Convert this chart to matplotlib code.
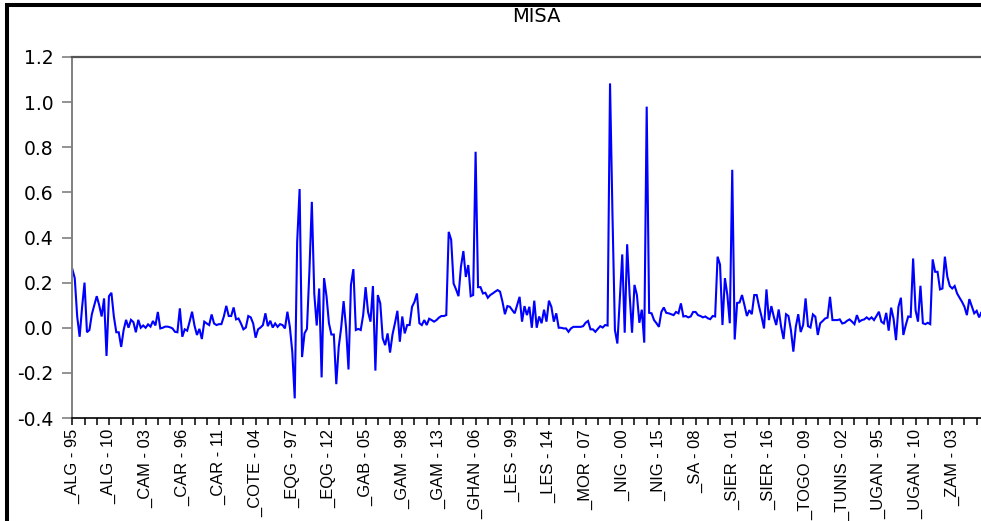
import matplotlib
matplotlib.use("Agg")
import matplotlib.pyplot as plt
import numpy as np
from matplotlib.lines import Line2D
from matplotlib.ticker import FormatStrFormatter

countries = ["ALG", "CAM", "CAR", "COTE", "EQG", "GAB", "GAM", "GHAN", "LES",
             "MOR", "NIG", "SA", "SIER", "TOGO", "TUNIS", "UGAN", "ZAM"]
years = list(range(1995, 2017))

ALG = [0.26, 0.22, 0.05, -0.04, 0.09, 0.20, -0.02, -0.01, 0.06, 0.10, 0.14,
       0.10, 0.05, 0.13, -0.125, 0.14, 0.155, 0.05, -0.02, -0.02, -0.085, -0.01]
CAM = [0.035, 0.0, 0.035, 0.025, -0.02, 0.035, 0.0, 0.01, 0.0, 0.015, 0.005,
       0.03, 0.01, 0.07, -0.003, 0.0, 0.005, 0.005, 0.002, -0.003, -0.018, -0.02]
CAR = [0.086, -0.04, -0.007, -0.013, 0.027, 0.071, 0.009, -0.032, -0.005, -0.05, 0.027,
       0.019, 0.012, 0.059, 0.019, 0.012, 0.016, 0.016, 0.05, 0.097, 0.052, 0.052]
COTE = [0.09, 0.037, 0.041, 0.019, -0.007, 0.001, 0.052, 0.046, 0.019, -0.044, -0.007,
        0.001, 0.012, 0.064, 0.007, 0.031, 0.001, 0.019, 0.004, 0.016, 0.012, -0.003]
EQG = [0.071, 0.004, -0.106, -0.313, 0.38, 0.615, -0.13, -0.025, -0.005, 0.25, 0.558,
       0.15, 0.01, 0.174, -0.22, 0.22, 0.14, 0.02, -0.03, -0.03, -0.25, -0.085]
GAB = [0.0, 0.118, 0.0, -0.185, 0.19, 0.26, -0.01, -0.005, -0.01, 0.056, 0.18,
       0.07, 0.027, 0.185, -0.19, 0.145, 0.108, -0.047, -0.077, -0.025, -0.11, -0.03]
GAM = [0.02, 0.075, -0.062, 0.05, -0.025, 0.012, 0.012, 0.093, 0.115, 0.152, 0.02,
       0.012, 0.034, 0.012, 0.04, 0.034, 0.027, 0.034, 0.045, 0.052, 0.052, 0.056]
GHAN = [0.425, 0.39, 0.196, 0.17, 0.14, 0.27, 0.34, 0.225, 0.278, 0.14, 0.145,
        0.78, 0.18, 0.18, 0.152, 0.155, 0.133, 0.145, 0.152, 0.16, 0.167, 0.16]
LES = [0.115, 0.06, 0.096, 0.093, 0.078, 0.064, 0.1, 0.137, 0.027, 0.096, 0.056,
       0.093, 0.0, 0.12, 0.0, 0.05, 0.02, 0.08, 0.027, 0.12, 0.093, 0.027]
MOR = [0.064, 0.0, 0.0, -0.003, -0.003, -0.018, -0.003, 0.004, 0.004, 0.004, 0.004,
       0.007, 0.022, 0.03, -0.007, -0.007, -0.018, -0.005, 0.007, 0.001, 0.012, 0.01]
NIG = [1.083, 0.5, -0.01, -0.07, 0.13, 0.325, -0.022, 0.37, 0.15, -0.022, 0.19,
       0.145, 0.022, 0.08, -0.066, 0.98, 0.066, 0.064, 0.034, 0.02, 0.004, 0.07]
SA = [0.09, 0.066, 0.064, 0.06, 0.056, 0.07, 0.064, 0.108, 0.05, 0.052, 0.046,
      0.05, 0.07, 0.07, 0.056, 0.052, 0.046, 0.05, 0.042, 0.038, 0.052, 0.05]
SIER = [0.315, 0.28, 0.012, 0.22, 0.145, 0.02, 0.7, -0.052, 0.11, 0.112, 0.145,
        0.1, 0.052, 0.078, 0.06, 0.145, 0.145, 0.093, 0.049, -0.003, 0.17, 0.034]
TOGO = [0.096, 0.049, 0.012, 0.081, 0.004, -0.05, 0.06, 0.052, -0.01, -0.106, 0.004,
        0.06, -0.019, 0.012, 0.13, 0.007, 0.001, 0.059, 0.049, -0.032, 0.02, 0.03]
TUNIS = [0.041, 0.045, 0.137, 0.034, 0.034, 0.034, 0.037, 0.019, 0.022, 0.031, 0.037,
         0.027, 0.016, 0.056, 0.027, 0.034, 0.037, 0.046, 0.037, 0.046, 0.034, 0.052]
UGAN = [0.071, 0.027, 0.019, 0.066, -0.013, 0.089, 0.04, -0.055, 0.093, 0.133, -0.032,
        0.012, 0.05, 0.048, 0.307, 0.078, 0.027, 0.186, 0.02, 0.016, 0.022, 0.016]
ZAM = [0.303, 0.248, 0.248, 0.17, 0.174, 0.315, 0.226, 0.185, 0.174, 0.185, 0.152,
       0.133, 0.115, 0.093, 0.056, 0.127, 0.096, 0.064, 0.075, 0.046, 0.07, 0.05]

series = [ALG, CAM, CAR, COTE, EQG, GAB, GAM, GHAN, LES, MOR, NIG, SA, SIER,
          TOGO, TUNIS, UGAN, ZAM]
misa = np.concatenate([np.asarray(s, dtype=float) for s in series])
obs_labels = [f"_{c} - {y % 100:02d}" for c in countries for y in years]

W, H = 981, 521
fig = plt.figure(figsize=(W / 100, H / 100), dpi=100)
fig.patch.set_facecolor("white")

left_px, right_px, top_px, bot_px = 72.3, 984.0, 57.0, 418.0
ax = fig.add_axes([left_px / W, (H - bot_px) / H,
                   (right_px - left_px) / W, (bot_px - top_px) / H])

x = np.arange(len(misa))
ax.plot(x, misa, color="#0000FF", lw=1.5, solid_joinstyle="miter")

ax.set_xlim(0, len(misa) - 1)
ax.set_ylim(-0.4, 1.2)
ax.set_yticks(np.round(np.arange(-0.4, 1.21, 0.2), 1))
ax.yaxis.set_major_formatter(FormatStrFormatter("%.1f"))

major = x[::15]
ax.set_xticks(major)
ax.set_xticklabels([obs_labels[i] for i in major], rotation=90,
                   fontfamily="Liberation Sans", fontsize=11.9)
ax.set_xticks(x[::5], minor=True)

ax.tick_params(axis="x", which="both", direction="out", length=5, width=1.1,
               color="black", pad=3.0)
ax.tick_params(axis="y", direction="out", length=7.2, width=1.2,
               color="#808080", pad=6.5, labelsize=13.5)
for lab in ax.get_yticklabels():
    lab.set_fontfamily("DejaVu Sans")

ax.spines["right"].set_visible(False)
ax.spines["top"].set_color("#555555")
ax.spines["top"].set_linewidth(1.6)
ax.spines["left"].set_color("#808080")
ax.spines["left"].set_linewidth(1.4)
ax.spines["bottom"].set_color("black")
ax.spines["bottom"].set_linewidth(1.2)

fig.text(536 / W, 1 - 17 / H, "MISA", ha="center", va="center",
         fontsize=14, fontfamily="DejaVu Sans")

fig.add_artist(Line2D([7 / W, 7 / W], [0, 1 - 3 / H], transform=fig.transFigure,
                      color="black", lw=2.9, solid_capstyle="butt"))
fig.add_artist(Line2D([5 / W, 1], [1 - 5 / H, 1 - 5 / H], transform=fig.transFigure,
                      color="black", lw=2.9, solid_capstyle="butt"))

fig.savefig("out.png", dpi=100)
